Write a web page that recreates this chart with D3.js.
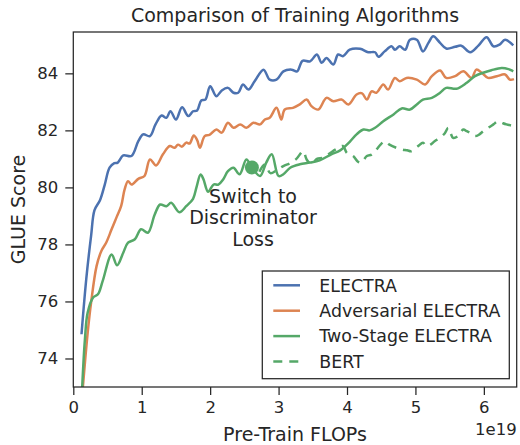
<!DOCTYPE html>
<html>
<head>
<meta charset="utf-8">
<script src="https://cdn.jsdelivr.net/npm/d3@7"></script>
<style>
  body { margin: 0; background: #fff; }
  svg text { font-family: "DejaVu Sans", sans-serif; fill: #262626; }
</style>
</head>
<body>
<div id="main"></div>
<script>
"use strict";

// x in units of 1e19 FLOPs, y = GLUE score
var electra = [[0.12,74.85],[0.19,76.8],[0.26,78.3],[0.31,79.2],[0.39,79.55],[0.46,80.1],[0.53,80.69],[0.60,80.85],[0.65,80.87],[0.73,81.12],[0.85,81.1],[0.95,81.62],[1.02,81.86],[1.12,81.8],[1.20,82.2],[1.29,82.52],[1.36,82.44],[1.42,82.67],[1.50,82.38],[1.59,82.81],[1.68,82.5],[1.75,82.67],[1.81,82.7],[1.87,83.05],[1.93,83.08],[2.0,83.55],[2.09,83.2],[2.17,83.4],[2.26,83.49],[2.34,83.32],[2.41,83.32],[2.48,83.61],[2.56,83.43],[2.65,83.72],[2.78,84.13],[2.87,83.78],[2.97,83.78],[3.07,84.07],[3.19,84.13],[3.27,84.07],[3.35,84.44],[3.46,84.42],[3.56,84.66],[3.63,84.37],[3.70,84.54],[3.80,84.31],[3.87,84.66],[3.94,84.6],[4.04,84.83],[4.19,84.86],[4.31,84.74],[4.41,84.74],[4.46,84.58],[4.55,84.77],[4.65,84.95],[4.70,84.83],[4.77,84.95],[4.85,84.83],[4.92,85.18],[5.02,85.18],[5.11,84.77],[5.19,85.07],[5.26,85.3],[5.36,85.07],[5.45,84.87],[5.58,84.93],[5.67,84.97],[5.80,84.74],[5.92,84.97],[6.04,85.27],[6.14,84.95],[6.23,85.01],[6.31,85.18],[6.43,84.98]];

var adversarial = [[0.14,73.0],[0.21,74.9],[0.26,75.96],[0.34,77.24],[0.41,77.77],[0.48,78.06],[0.56,78.53],[0.63,78.94],[0.70,79.35],[0.75,79.93],[0.80,80.22],[0.85,80.1],[0.95,80.3],[1.04,80.4],[1.12,80.98],[1.21,80.77],[1.31,81.16],[1.41,81.45],[1.48,81.39],[1.53,81.5],[1.59,81.43],[1.65,81.57],[1.70,81.54],[1.76,81.82],[1.81,81.66],[1.85,81.39],[1.92,81.8],[1.99,81.84],[2.09,82.03],[2.17,81.92],[2.26,82.27],[2.34,82.09],[2.44,82.21],[2.53,82.09],[2.63,82.27],[2.73,82.21],[2.80,82.38],[2.87,82.44],[2.97,82.79],[3.04,82.38],[3.09,82.73],[3.21,82.79],[3.31,82.91],[3.41,83.08],[3.48,82.85],[3.58,82.73],[3.70,83.14],[3.80,83.02],[3.92,83.08],[4.02,82.91],[4.14,83.26],[4.22,83.3],[4.29,83.08],[4.36,83.37],[4.43,83.32],[4.53,83.61],[4.60,83.43],[4.70,83.84],[4.77,83.72],[4.87,83.84],[5.02,83.78],[5.14,83.61],[5.24,83.9],[5.36,84.1],[5.45,83.84],[5.58,83.9],[5.70,84.07],[5.82,83.84],[5.89,84.13],[5.97,84.02],[6.06,83.84],[6.19,83.9],[6.31,83.96],[6.38,83.78],[6.44,83.8]];

var twoStage = [[0.13,73.0],[0.17,74.68],[0.21,75.61],[0.29,76.14],[0.36,76.25],[0.43,76.72],[0.56,77.65],[0.64,77.27],[0.73,77.71],[0.80,78.06],[0.90,78.18],[0.99,78.53],[1.09,78.41],[1.19,79.05],[1.27,79.4],[1.36,79.34],[1.43,79.46],[1.55,79.13],[1.65,79.34],[1.75,79.6],[1.80,80.0],[1.86,80.45],[1.90,80.3],[1.97,79.85],[2.05,80.1],[2.12,80.1],[2.19,80.28],[2.26,80.57],[2.34,80.69],[2.43,80.46],[2.53,80.98],[2.61,80.7],[2.73,80.4],[2.82,80.87],[2.90,81.16],[3.0,80.4],[3.07,80.46],[3.17,80.69],[3.31,80.81],[3.46,80.87],[3.60,80.95],[3.77,81.16],[3.90,81.3],[4.04,81.6],[4.14,81.86],[4.24,82.03],[4.33,82.0],[4.41,82.09],[4.53,82.32],[4.68,82.56],[4.80,82.77],[4.92,82.73],[5.02,82.91],[5.11,83.08],[5.24,83.14],[5.36,83.32],[5.45,83.49],[5.60,83.46],[5.75,83.67],[5.87,83.9],[5.99,84.02],[6.11,84.11],[6.26,84.19],[6.36,84.15],[6.43,84.07]];

var bert = [[2.72,80.55],[2.80,80.8],[2.88,80.5],[2.97,80.6],[3.07,80.75],[3.17,80.85],[3.26,81.0],[3.36,81.27],[3.41,80.98],[3.48,80.81],[3.56,81.0],[3.65,81.04],[3.75,81.2],[3.85,81.35],[3.94,81.45],[4.0,81.2],[4.09,81.1],[4.16,80.9],[4.21,80.87],[4.29,81.1],[4.36,81.15],[4.43,81.33],[4.49,81.5],[4.55,81.62],[4.62,81.5],[4.72,81.39],[4.80,81.33],[4.88,81.3],[4.94,81.27],[5.04,81.45],[5.11,81.57],[5.16,81.45],[5.22,81.5],[5.28,81.62],[5.36,81.74],[5.43,81.9],[5.48,82.09],[5.55,81.74],[5.62,81.8],[5.70,82.03],[5.75,81.97],[5.81,81.9],[5.87,81.8],[5.93,81.85],[5.99,81.97],[6.07,82.1],[6.14,82.21],[6.21,82.32],[6.28,82.25],[6.33,82.21],[6.43,82.15]];

var switchPoint = [2.61, 80.7];
var xTicks = [0, 1, 2, 3, 4, 5, 6];
var yTicks = [74, 76, 78, 80, 82, 84];

var seriesNames = ["ELECTRA", "Adversarial ELECTRA", "Two-Stage ELECTRA", "BERT"];
var seriesData = [electra, adversarial, twoStage, bert];
var seriesColors = ["#4c72b0", "#dd8452", "#55a868", "#55a868"];
var seriesDash = [null, null, null, "9,7"];

var W = 520, H = 445;
var plotLeft = 73.3, plotRight = 516.7, plotTop = 32, plotBottom = 387;

var svg = d3.select("#main").append("svg")
    .attr("width", W)
    .attr("height", H);

var x = d3.scaleLinear().domain([0, 6.48]).range([plotLeft, plotRight]);
var y = d3.scaleLinear().domain([73.0, 85.45]).range([plotBottom, plotTop]);

svg.append("clipPath").attr("id", "plotclip")
    .append("rect")
    .attr("x", plotLeft).attr("y", plotTop)
    .attr("width", plotRight - plotLeft).attr("height", plotBottom - plotTop);

// axes
var xAxis = svg.append("g")
    .attr("transform", "translate(0," + plotBottom + ")")
    .call(d3.axisBottom(x).tickValues(xTicks).tickFormat(d3.format("d")).tickSize(8).tickPadding(6));
var yAxis = svg.append("g")
    .attr("transform", "translate(" + plotLeft + ",0)")
    .call(d3.axisLeft(y).tickValues(yTicks).tickSize(8).tickPadding(7));

[xAxis, yAxis].forEach(function(a){
    a.select(".domain").remove();
    a.selectAll(".tick line").attr("stroke", "#262626").attr("stroke-width", 1.25);
    a.selectAll(".tick text").style("font-size", "16.5px").attr("fill", "#262626");
});

// lines
var line = d3.line()
    .x(function(d){ return x(d[0]); })
    .y(function(d){ return y(d[1]); })
    .curve(d3.curveCatmullRom.alpha(0.5));

var plot = svg.append("g").attr("clip-path", "url(#plotclip)");

seriesData.forEach(function(data, i){
    plot.append("path")
        .datum(data)
        .attr("fill", "none")
        .attr("stroke", seriesColors[i])
        .attr("stroke-width", 2.5)
        .attr("stroke-linejoin", "round")
        .attr("stroke-dasharray", seriesDash[i])
        .attr("d", line);
});

plot.append("circle")
    .attr("cx", x(switchPoint[0]))
    .attr("cy", y(switchPoint[1]))
    .attr("r", 7)
    .attr("fill", "#55a868");

// annotation
var note = svg.append("text")
    .attr("text-anchor", "middle")
    .style("font-size", "19px");
["Switch to", "Discriminator", "Loss"].forEach(function(t, i){
    note.append("tspan")
        .attr("x", 253)
        .attr("y", 203 + i * 21.3)
        .text(t);
});

// frame
svg.append("rect")
    .attr("x", plotLeft).attr("y", plotTop)
    .attr("width", plotRight - plotLeft).attr("height", plotBottom - plotTop)
    .attr("fill", "none")
    .attr("stroke", "#262626")
    .attr("stroke-width", 1.25);

// labels
svg.append("text")
    .attr("x", (plotLeft + plotRight) / 2).attr("y", 21.5)
    .attr("text-anchor", "middle")
    .style("font-size", "19px")
    .text("Comparison of Training Algorithms");

svg.append("text")
    .attr("x", (plotLeft + plotRight) / 2).attr("y", 441)
    .attr("text-anchor", "middle")
    .style("font-size", "19px")
    .text("Pre-Train FLOPs");

svg.append("text")
    .attr("transform", "translate(25," + ((plotTop + plotBottom) / 2) + ") rotate(-90)")
    .attr("text-anchor", "middle")
    .style("font-size", "19px")
    .text("GLUE Score");

svg.append("text")
    .attr("x", plotRight).attr("y", 435)
    .attr("text-anchor", "end")
    .style("font-size", "16.5px")
    .text("1e19");

// legend
var legend = svg.append("g");
legend.append("rect")
    .attr("x", 262.3).attr("y", 271)
    .attr("width", 247).attr("height", 107.7)
    .attr("fill", "#fff")
    .attr("stroke", "#262626")
    .attr("stroke-width", 1.25);

seriesNames.forEach(function(name, i){
    var ly = 285.3 + i * 25.4;
    legend.append("line")
        .attr("x1", 273.3).attr("x2", 300)
        .attr("y1", ly).attr("y2", ly)
        .attr("stroke", seriesColors[i])
        .attr("stroke-width", 2.5)
        .attr("stroke-dasharray", seriesDash[i]);
    legend.append("text")
        .attr("x", 319.3).attr("y", ly)
        .attr("dy", "0.36em")
        .style("font-size", "17.4px")
        .text(name);
});
</script>
</body>
</html>
